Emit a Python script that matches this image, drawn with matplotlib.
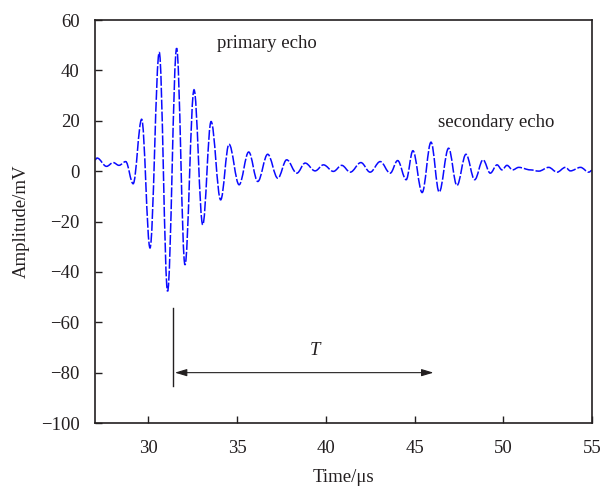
import matplotlib
matplotlib.use('Agg')
import matplotlib.pyplot as plt
from matplotlib.path import Path
from matplotlib.patches import PathPatch

plt.rcParams['font.family'] = ['Liberation Serif', 'DejaVu Serif']

# turning points of the echo signal (time in us, amplitude in mV)
t_ext = [27.0, 27.12, 27.65, 28.03, 28.35, 28.73, 29.15, 29.63, 30.1, 30.62,
         31.09, 31.6, 32.07, 32.58, 33.07, 33.54, 34.08, 34.55, 35.12, 35.66,
         36.17, 36.73, 37.3, 37.8, 38.37, 38.84, 39.4, 39.87, 40.43, 40.9,
         41.38, 41.98, 42.5, 43.07, 43.63, 44.05, 44.53, 44.91, 45.43, 45.93,
         46.39, 46.92, 47.39, 47.9, 48.39, 48.86, 49.27, 49.65, 49.93, 50.21,
         50.53, 50.87, 51.53, 52.0, 52.56, 53.03, 53.5, 53.78, 54.35, 54.82, 55.0]
a_ext = [4.5, 5.2, 1.9, 3.4, 2.3, 3.8, -5.0, 20.6, -30.5, 47.2,
         -47.7, 48.8, -37.2, 32.3, -21.3, 19.7, -11.4, 10.7, -5.4, 7.6,
         -4.1, 6.7, -2.8, 4.5, -0.8, 3.2, 0.1, 2.5, -0.1, 2.3,
         -0.4, 3.4, -0.4, 3.8, -0.8, 4.2, -3.4, 8.1, -8.5, 11.5,
         -8.3, 9.1, -5.7, 6.7, -3.4, 4.5, -0.8, 2.5, 0.5, 2.3,
         0.5, 1.5, 0.5, 0.0, 1.5, -0.4, 1.5, 0.1, 1.5, -0.4, 0.3]

x_ticks = [30, 35, 40, 45, 50, 55]
y_ticks = [-100, -80, -60, -40, -20, 0, 20, 40, 60]

t_start, t_end = 31.38, 46.07   # marker line and arrow of T
ink = '#231f20'

fig = plt.figure(figsize=(6, 4.86), dpi=100)
ax = fig.add_axes([0.1583, 0.1296, 0.8284, 0.8292])

# smooth curve through the turning points (flat tangent at each one)
k = 0.3634
verts = [(t_ext[0], a_ext[0])]
codes = [Path.MOVETO]
for i in range(len(t_ext) - 1):
    t0, t1 = t_ext[i], t_ext[i + 1]
    a0, a1 = a_ext[i], a_ext[i + 1]
    dt = t1 - t0
    verts += [(t0 + k * dt, a0), (t1 - k * dt, a1), (t1, a1)]
    codes += [Path.CURVE4] * 3
wave = PathPatch(Path(verts, codes), fill=False, edgecolor='#0a0aff',
                 lw=1.1, linestyle=(0, (6.5, 1.3)))
ax.add_patch(wave)

ax.plot([t_start, t_start], [-54.4, -85.2], color=ink, lw=1.0)
ax.annotate('', xy=(t_end, -80), xytext=(t_start + 0.12, -80),
            arrowprops=dict(arrowstyle='<|-|>,head_length=0.6,head_width=0.18',
                            color=ink, lw=0.8, mutation_scale=12,
                            shrinkA=0, shrinkB=0))
ax.text(39.4, -71.4, 'T', style='italic', fontsize=13.5, color=ink,
        ha='center', va='center')
ax.text(33.86, 50.8, 'primary echo', fontsize=13.5, color=ink,
        ha='left', va='center')
ax.text(46.3, 19.4, 'secondary echo', fontsize=13.5, color=ink,
        ha='left', va='center')

ax.set_xlim(27, 55)
ax.set_ylim(-100, 60)
ax.set_xticks(x_ticks)
ax.set_yticks(y_ticks)
ax.tick_params(direction='in', length=5, width=1.0, colors=ink,
               labelsize=13.5, pad=11)
ax.tick_params(axis='x', pad=12)
for s in ax.spines.values():
    s.set_linewidth(1.2)
    s.set_color(ink)
ax.set_xlabel('Time/μs', fontsize=13.5, color=ink, labelpad=9)
ax.set_ylabel('Amplitude/mV', fontsize=13.5, color=ink, labelpad=8)

fig.savefig('out.png', dpi=100)
